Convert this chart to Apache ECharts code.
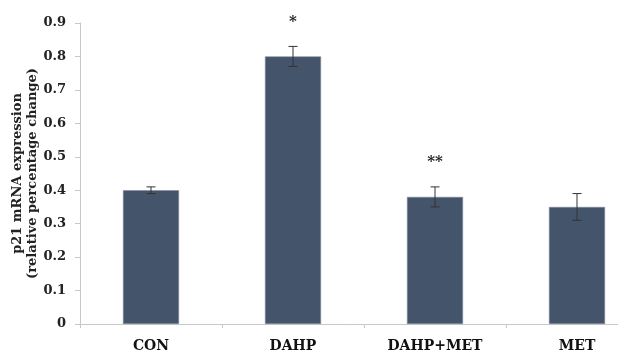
<!DOCTYPE html>
<html>
<head>
<meta charset="utf-8">
<script src="https://cdn.jsdelivr.net/npm/echarts@6/dist/echarts.min.js"></script>
<style>html,body{margin:0;padding:0;background:#fff;}#c{width:618px;height:354px;}</style>
</head>
<body>
<div id="c"></div>
<script>
var categories = ['CON', 'DAHP', 'DAHP+MET', 'MET'];
var values = [0.40, 0.80, 0.38, 0.35];
var errors = [0.01, 0.03, 0.03, 0.04];
var annotations = ['', '*', '**', ''];
var yTicks = [0, 0.1, 0.2, 0.3, 0.4, 0.5, 0.6, 0.7, 0.8, 0.9];

var font = 'DejaVu Serif';
var chart = echarts.init(document.getElementById('c'), null, {renderer: 'canvas'});
chart.setOption({
  animation: false,
  backgroundColor: '#ffffff',
  grid: {left: 80, right: -30, top: 23, bottom: 30, containLabel: false, outerBoundsMode: 'none'},
  xAxis: {
    type: 'category',
    data: categories,
    axisLine: {lineStyle: {color: '#c8c8c8', width: 1}},
    axisTick: {show: true, length: 4, lineStyle: {color: '#c8c8c8'}},
    axisLabel: {color: '#111', fontFamily: font, fontWeight: 'bold', fontSize: 14, margin: 15}
  },
  yAxis: {
    type: 'value',
    min: 0, max: 0.9, interval: 0.1,
    name: 'p21 mRNA expression\n(relative percentage change)',
    nameLocation: 'middle',
    nameRotate: 90,
    nameGap: 40,
    nameMoveOverlap: false,
    nameTextStyle: {color: '#222', fontFamily: font, fontWeight: 'bold', fontSize: 13, lineHeight: 15},
    axisLine: {show: true, lineStyle: {color: '#c8c8c8', width: 1}},
    axisTick: {show: true, length: 5, lineStyle: {color: '#c8c8c8'}},
    splitLine: {show: false},
    axisLabel: {
      color: '#222', fontFamily: font, fontWeight: 'bold', fontSize: 13, margin: 14,
      formatter: function (v) {
        for (var i = 0; i < yTicks.length; i++) {
          if (Math.abs(yTicks[i] - v) < 1e-9) return String(yTicks[i]);
        }
        return '';
      }
    }
  },
  series: [
    {
      type: 'bar',
      data: values,
      barWidth: '39.5%',
      itemStyle: {color: '#44546a', borderColor: '#7f8b9b', borderWidth: 0.6},
      label: {
        show: true,
        position: 'top',
        distance: 27,
        color: '#222',
        fontFamily: font,
        fontWeight: 'bold',
        fontSize: 15,
        formatter: function (p) { return annotations[p.dataIndex]; }
      }
    },
    {
      type: 'custom',
      data: values.map(function (v, i) { return [i, v - errors[i], v + errors[i]]; }),
      renderItem: function (params, api) {
        var x = api.value(0);
        var lo = api.coord([x, api.value(1)]);
        var hi = api.coord([x, api.value(2)]);
        var w = 4.5;
        var st = {stroke: '#333', lineWidth: 1};
        return {
          type: 'group',
          children: [
            {type: 'line', shape: {x1: lo[0], y1: lo[1], x2: hi[0], y2: hi[1]}, style: st},
            {type: 'line', shape: {x1: lo[0] - w, y1: lo[1], x2: lo[0] + w, y2: lo[1]}, style: st},
            {type: 'line', shape: {x1: hi[0] - w, y1: hi[1], x2: hi[0] + w, y2: hi[1]}, style: st}
          ]
        };
      },
      z: 5
    }
  ]
});
</script>
</body>
</html>
